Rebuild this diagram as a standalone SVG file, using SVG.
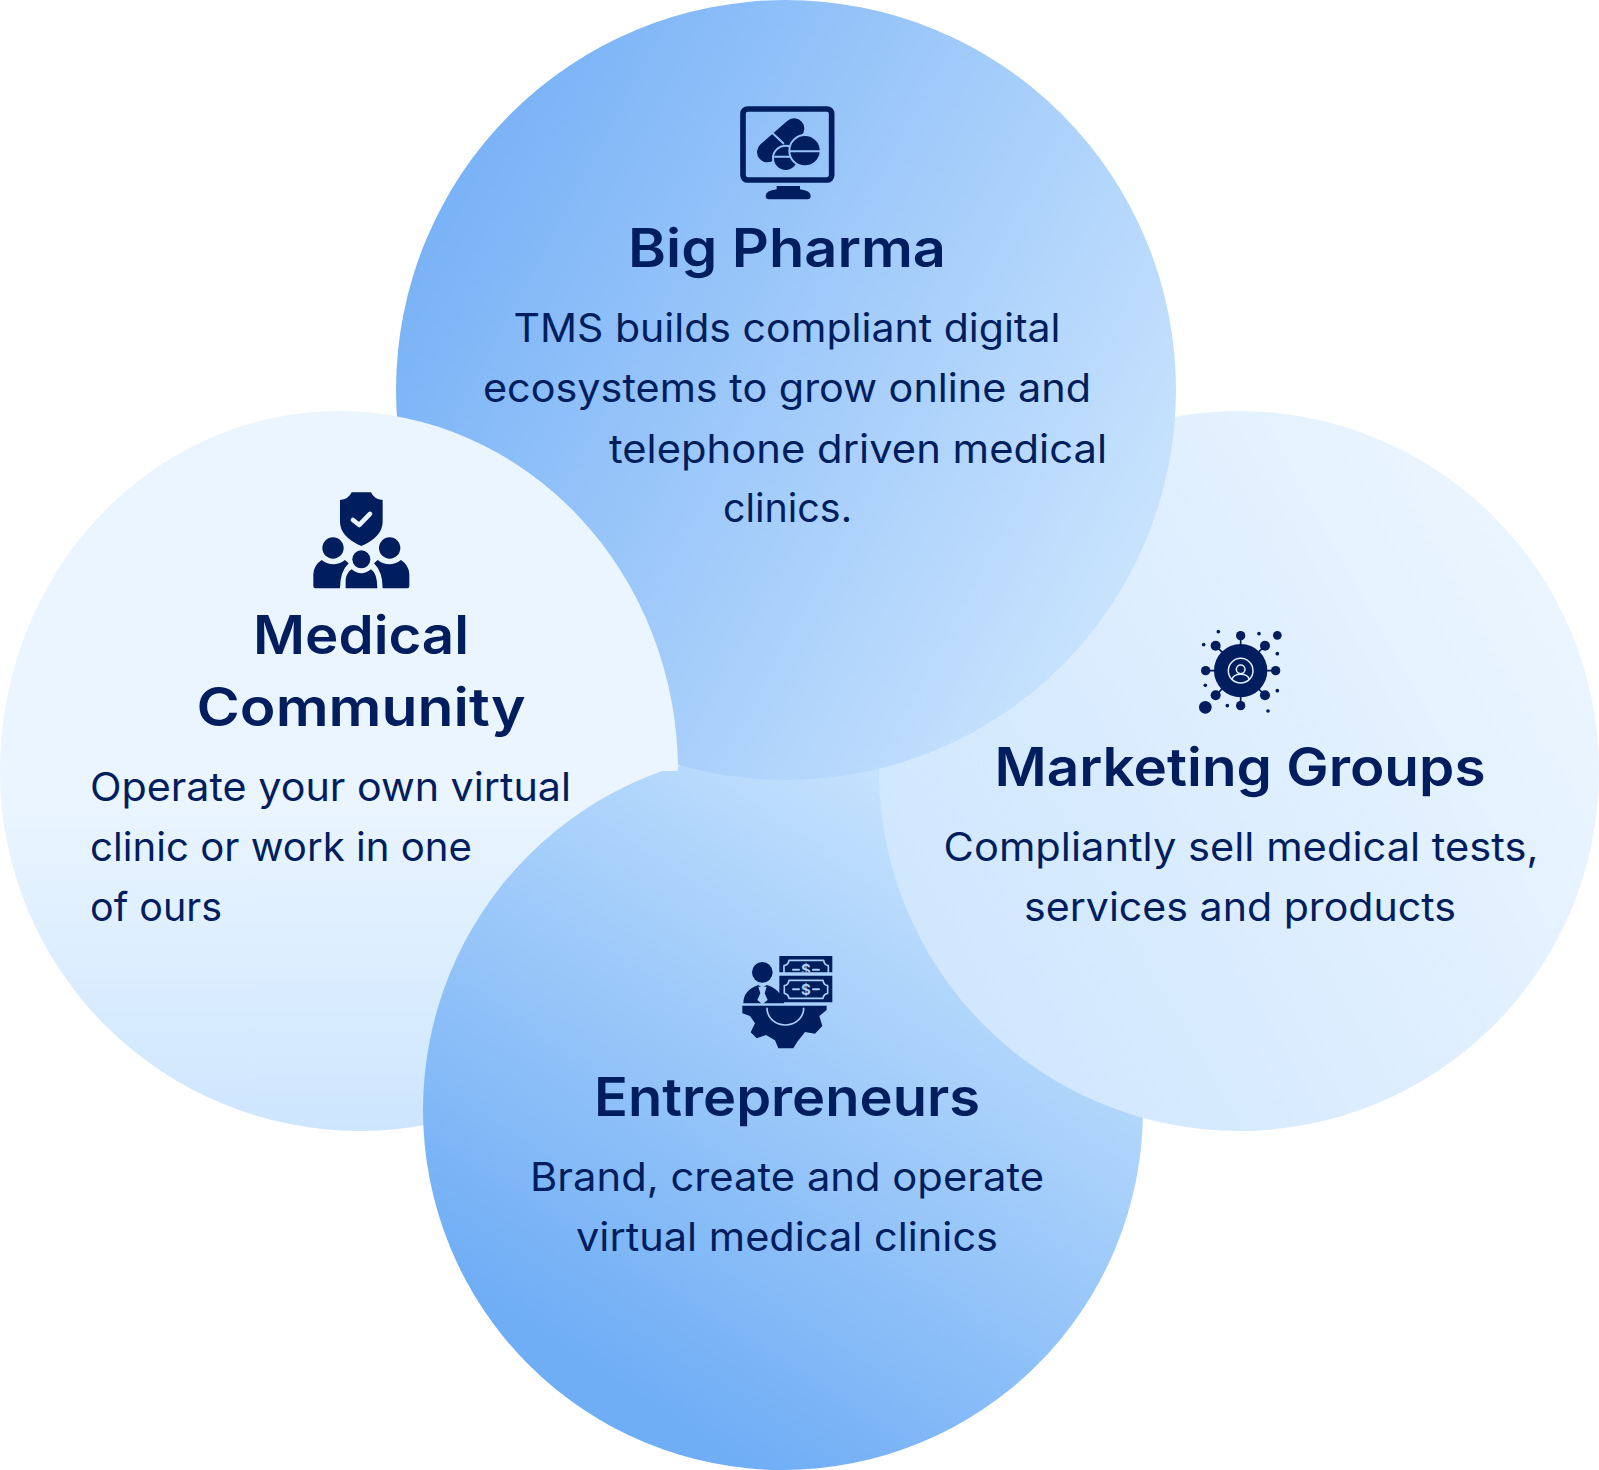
<svg xmlns="http://www.w3.org/2000/svg" width="1599" height="1470" viewBox="0 0 1599 1470">
<style>
text{font-family:"Inter","Liberation Sans",sans-serif;fill:#001e5e}
.t{font-size:53px;font-weight:600}
.b{font-size:39px;font-weight:400}
.d{fill:#001e5e}
.n{fill:none;stroke-linecap:round;stroke-linejoin:round}
text.s{font-size:15px;font-weight:700;fill:#A6CFFB}
</style>
<defs>
<linearGradient id="gTop" gradientUnits="userSpaceOnUse" x1="396" y1="180" x2="1176" y2="600"><stop offset="0" stop-color="#74AFF6"/><stop offset="1" stop-color="#CDE6FE"/></linearGradient>
<linearGradient id="gBot" gradientUnits="userSpaceOnUse" x1="640" y1="1400" x2="1010" y2="830"><stop offset="0" stop-color="#6FADF5"/><stop offset="1" stop-color="#C8E4FE"/></linearGradient>
<linearGradient id="gLeft" gradientUnits="userSpaceOnUse" x1="0" y1="800" x2="0" y2="1131"><stop offset="0" stop-color="#EAF5FF"/><stop offset="1" stop-color="#CDE6FE"/></linearGradient>
<linearGradient id="gRight" gradientUnits="userSpaceOnUse" x1="940" y1="950" x2="1560" y2="600"><stop offset="0" stop-color="#D0E7FE"/><stop offset="1" stop-color="#EBF5FF"/></linearGradient>
<clipPath id="billClip"><rect x="780" y="955" width="60" height="17"/></clipPath>
</defs>

<g id="node-medical-community-base"><path d="M0 771A360 360 0 0 0 720 771Z" fill="url(#gLeft)"/></g>

<g id="node-entrepreneurs">
<circle cx="783" cy="1110" r="360" fill="url(#gBot)"/>
<g transform="translate(725 945) scale(.3333)">
<path class="d" d="M163 33H322V82H163Z"/>
<path class="n" stroke="#A6CFFB" stroke-width="5" d="M177 82V62Q190 60 192 46H296Q298 60 310 62V82"/>
<path class="d" d="M163 92H322V172H163Z"/>
<path class="n" stroke="#A6CFFB" stroke-width="5" d="M192 106H294Q296 120 308 122V145Q296 147 294 160H192Q190 147 178 145V122Q190 120 192 106Z"/>
<path class="n" stroke="#A6CFFB" stroke-width="6" d="M204 133H222M264 133H282M204 74H222M264 74H282"/>
<circle class="d" cx="112" cy="82" r="31"/>
<path class="d" d="M55 175Q55 135 100 120L112 128L125 120Q165 130 178 175Z"/>
<path fill="#A6CFFB" d="M100 125H125L119 145L128 165L112 178L97 165L106 145Z"/>
<path class="d" d="M52 182H305V195L283 213L292 243L270 266L240 261L217 290L205 310H160L150 286L123 270L95 280L77 262L90 235L75 213L52 205Z"/>
<path class="n" stroke="#A6CFFB" stroke-width="5" d="M126 190A55 50 0 0 0 236 190"/>
</g>
<text class="s" x="806" y="975" text-anchor="middle" clip-path="url(#billClip)">$</text>
<text class="s" x="806" y="995" text-anchor="middle">$</text>
<text class="t" x="787" y="1116" text-anchor="middle" textLength="386" lengthAdjust="spacingAndGlyphs">Entrepreneurs</text>
<text class="b" x="787" y="1191" text-anchor="middle" textLength="514" lengthAdjust="spacingAndGlyphs">Brand, create and operate</text>
<text class="b" x="787" y="1251" text-anchor="middle" textLength="422" lengthAdjust="spacingAndGlyphs">virtual medical clinics</text>
</g>

<g id="node-marketing-groups">
<circle cx="1239" cy="771" r="360" fill="url(#gRight)"/>
<g transform="translate(1185 620) scale(.3333)">
<path class="d" stroke="#001e5e" stroke-width="5" d="M167 47V257M62 152H272M92 77L240 226M240 77L92 226"/>
<circle class="d" cx="167" cy="152" r="80"/>
<g class="d">
<circle cx="167" cy="47" r="14"/><circle cx="167" cy="257" r="14"/><circle cx="62" cy="152" r="14"/><circle cx="272" cy="152" r="14"/>
<circle cx="92" cy="77" r="15"/><circle cx="240" cy="77" r="15"/><circle cx="92" cy="226" r="15"/><circle cx="240" cy="226" r="15"/>
<circle cx="277" cy="46" r="13"/><circle cx="61" cy="262" r="19"/>
<circle cx="100" cy="35" r="5.5"/><circle cx="222" cy="41" r="5.5"/><circle cx="56" cy="74" r="5.5"/><circle cx="277" cy="101" r="5.5"/><circle cx="61" cy="196" r="5.5"/><circle cx="277" cy="212" r="5.5"/><circle cx="127" cy="257" r="5.5"/><circle cx="249" cy="273" r="5.5"/>
</g>
<g class="n" stroke="#E0F0FF" stroke-width="4.5">
<circle cx="167" cy="152" r="37"/><circle cx="167" cy="148" r="13"/>
<path d="M141 178Q146 163 167 163Q188 163 193 178"/>
</g>
</g>
<text class="t" x="1240" y="786" text-anchor="middle" textLength="491" lengthAdjust="spacingAndGlyphs">Marketing Groups</text>
<text class="b" x="1241" y="861" text-anchor="middle" textLength="595" lengthAdjust="spacingAndGlyphs">Compliantly sell medical tests,</text>
<text class="b" x="1240" y="921" text-anchor="middle" textLength="432" lengthAdjust="spacingAndGlyphs">services and products</text>
</g>

<g id="node-big-pharma">
<circle cx="786" cy="390" r="390" fill="url(#gTop)"/>
<g transform="translate(720 90) scale(.3333)">
<rect x="69" y="57" width="266" height="213" rx="14" fill="none" stroke="#001e5e" stroke-width="17"/>
<path class="d" d="M170 288H240V298Q272 302 272 318Q272 328 262 328H147Q137 328 137 318Q137 302 170 298Z"/>
<path class="n" stroke="#001e5e" stroke-width="62" d="M142 186L222 116"/>
<path class="n" stroke="#94C3F9" stroke-width="6" d="M158 130L190 160"/>
<circle class="d" cx="197" cy="205" r="38" stroke="#94C3F9" stroke-width="6"/>
<path class="n" stroke="#94C3F9" stroke-width="6" d="M165 200H215"/>
<circle class="d" cx="255" cy="182" r="47" stroke="#94C3F9" stroke-width="6"/>
<path class="n" stroke="#94C3F9" stroke-width="6" d="M210 184H300"/>
</g>
<text class="t" x="787" y="267" text-anchor="middle" textLength="318" lengthAdjust="spacingAndGlyphs">Big Pharma</text>
<text class="b" x="787" y="342" text-anchor="middle" textLength="547" lengthAdjust="spacingAndGlyphs">TMS builds compliant digital</text>
<text class="b" x="787" y="402" text-anchor="middle" textLength="608" lengthAdjust="spacingAndGlyphs">ecosystems to grow online and</text>
<text class="b" x="609" y="463" textLength="498" lengthAdjust="spacingAndGlyphs">telephone driven medical</text>
<text class="b" x="723" y="522" textLength="129" lengthAdjust="spacingAndGlyphs">clinics.</text>
</g>

<g id="node-medical-community">
<path d="M0 771A339 360 0 0 1 678 771Z" fill="#EAF5FF"/>
<g transform="translate(300 480) scale(.3333)">
<path class="d" d="M155 37H213Q222 58 248 60V125Q248 170 184 198Q120 170 120 125V60Q146 58 155 37Z"/>
<path class="n" stroke="#EAF5FF" stroke-width="14" d="M159 120L178 135L210 102"/>
<circle class="d" cx="99" cy="204" r="32"/><circle class="d" cx="269" cy="204" r="32"/><circle class="d" cx="184" cy="238" r="27"/>
<path class="d" d="M40 318V282Q42 255 65 240Q100 266 135 240L146 250Q120 275 120 325H46Q40 325 40 318Z"/>
<path class="d" d="M328 318V282Q326 255 303 240Q268 266 233 240L222 250Q248 275 248 325H322Q328 325 328 318Z"/>
<path class="d" d="M137 325V298Q140 278 155 268Q184 292 213 268Q232 280 232 325Z"/>
</g>
<text class="t" x="361" y="654" text-anchor="middle" textLength="216" lengthAdjust="spacingAndGlyphs">Medical</text>
<text class="t" x="361" y="726" text-anchor="middle" textLength="329" lengthAdjust="spacingAndGlyphs">Community</text>
<text class="b" x="90" y="801" textLength="481" lengthAdjust="spacingAndGlyphs">Operate your own virtual</text>
<text class="b" x="90" y="861" textLength="382" lengthAdjust="spacingAndGlyphs">clinic or work in one</text>
<text class="b" x="90" y="921" textLength="132" lengthAdjust="spacingAndGlyphs">of ours</text>
</g>
</svg>
